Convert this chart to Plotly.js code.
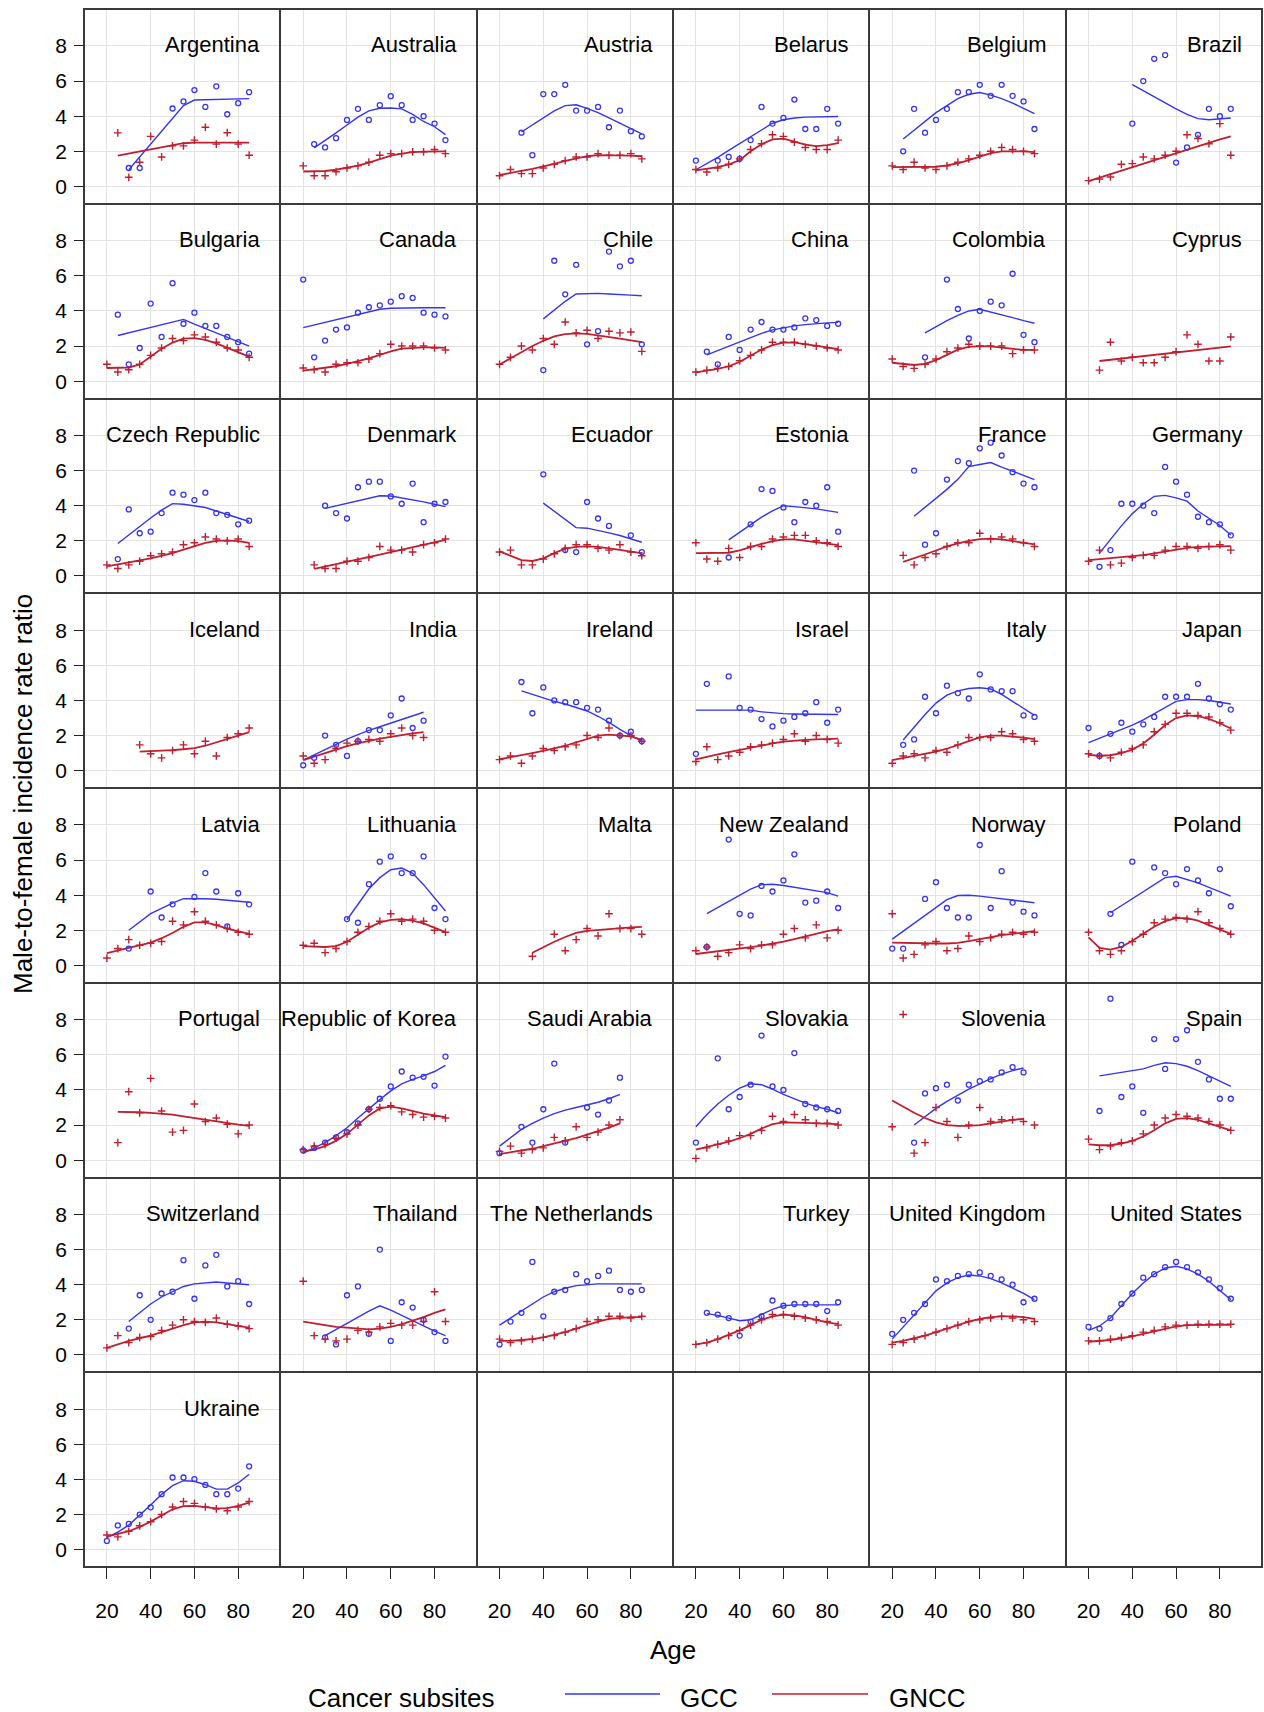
<!DOCTYPE html>
<html>
<head>
<meta charset="utf-8">
<script src="https://cdn.plot.ly/plotly-3.0.1.min.js"></script>
<style>
  html, body { margin: 0; padding: 0; background: #ffffff; }
  #chart { width: 1264px; height: 1712px; }
</style>
</head>
<body>
<div id="chart"></div>
<script>
// Age groups (years) shared by every country panel
const ages = [20, 25, 30, 35, 40, 45, 50, 55, 60, 65, 70, 75, 80, 85];

const countries = [
  "Argentina", "Australia", "Austria", "Belarus", "Belgium", "Brazil",
  "Bulgaria", "Canada", "Chile", "China", "Colombia", "Cyprus",
  "Czech Republic", "Denmark", "Ecuador", "Estonia", "France", "Germany",
  "Iceland", "India", "Ireland", "Israel", "Italy", "Japan",
  "Latvia", "Lithuania", "Malta", "New Zealand", "Norway", "Poland",
  "Portugal", "Republic of Korea", "Saudi Arabia", "Slovakia", "Slovenia", "Spain",
  "Switzerland", "Thailand", "The Netherlands", "Turkey", "United Kingdom", "United States",
  "Ukraine"
];

const N = null;

// GCC: observed male-to-female ratios by age group
const gccObserved = [
  [N,N,1.05,1.05,N,N,4.44,4.84,5.49,4.53,5.70,4.11,4.74,5.37],
  [N,2.41,2.22,2.75,3.79,4.42,3.79,4.63,5.14,4.63,3.79,4.0,3.58,2.64],
  [N,N,3.06,1.78,5.26,5.26,5.79,4.32,4.32,4.53,3.37,4.32,3.15,2.85],
  [1.47,N,1.47,1.68,1.57,2.64,4.53,3.58,3.9,4.95,3.27,3.27,4.42,3.58],
  [N,2.0,4.42,3.06,3.79,4.42,5.37,5.37,5.79,5.16,5.79,5.16,4.84,3.27],
  [N,N,N,N,3.58,6.0,7.27,7.48,1.36,2.22,2.94,4.42,4.0,4.42],
  [N,3.79,0.96,1.89,4.42,2.52,5.58,3.27,3.9,3.15,3.15,2.52,2.22,1.57],
  [5.79,1.36,2.31,2.94,3.06,3.9,4.21,4.32,4.53,4.84,4.74,3.9,3.79,3.69],
  [N,N,N,N,0.63,6.86,4.95,6.63,2.1,2.85,7.38,6.54,6.86,2.1],
  [N,1.68,0.96,2.52,1.78,2.94,3.37,2.94,2.94,3.06,3.58,3.48,3.15,3.27],
  [N,N,N,1.36,N,5.79,4.11,2.43,4.0,4.53,4.32,6.12,2.64,2.22],
  [N,N,N,N,N,N,N,N,N,N,N,N,N,N],
  [N,0.96,3.79,2.43,2.52,3.58,4.74,4.63,4.32,4.74,3.58,3.48,2.94,3.15],
  [N,N,4.0,3.58,3.27,5.05,5.37,5.37,4.53,4.11,5.26,3.06,4.11,4.21],
  [N,N,N,N,5.79,N,1.47,1.36,4.21,3.27,2.85,N,2.31,1.36],
  [N,N,N,1.05,N,2.94,4.95,4.84,3.9,3.06,4.21,4.0,5.05,2.52],
  [N,N,6.0,1.78,2.43,5.49,6.54,6.42,7.27,7.59,6.86,5.91,5.26,5.05],
  [N,0.52,1.47,4.11,4.11,4.0,3.58,6.21,5.37,4.63,3.37,3.06,2.94,2.31],
  [N,N,N,N,N,N,N,N,N,N,N,N,N,N],
  [0.31,0.73,2.0,1.47,0.84,1.68,2.31,2.31,3.15,4.11,2.43,2.85,N,N],
  [N,N,5.05,3.27,4.74,4.0,3.9,3.9,3.58,3.48,2.85,2.0,2.22,1.68],
  [0.96,4.95,N,5.37,3.58,3.48,2.94,2.52,2.85,3.06,3.27,3.9,2.73,3.48],
  [N,1.47,1.78,4.21,3.27,4.84,4.42,4.11,5.49,4.63,4.53,4.53,3.15,3.06],
  [2.43,0.84,2.1,2.73,2.22,2.64,3.06,4.21,4.21,4.21,4.95,4.11,3.79,3.48],
  [N,N,0.96,N,4.21,2.73,3.48,N,3.9,5.26,4.21,2.22,4.11,3.48],
  [N,N,N,N,2.64,2.43,4.63,5.91,6.21,5.26,5.26,6.21,3.27,2.64],
  [N,N,N,N,N,N,N,N,N,N,N,N,N,N],
  [N,1.05,N,7.17,2.94,2.85,4.53,4.21,4.84,6.33,3.58,3.69,4.21,3.27],
  [0.96,0.96,N,3.79,4.74,3.27,2.73,2.73,6.86,3.27,5.37,3.58,3.06,2.85],
  [N,N,2.94,1.17,5.91,N,5.58,5.26,4.63,5.49,4.84,4.11,5.49,3.37],
  [N,N,N,N,N,N,N,N,N,N,N,N,N,N],
  [0.55,0.7,1.0,1.3,1.6,2.1,2.9,3.5,4.2,5.05,4.7,4.75,4.25,5.9],
  [0.4,N,1.9,1.0,2.9,5.5,1.0,N,3.0,2.6,3.4,4.7,N,N],
  [1.0,N,5.8,2.9,3.6,4.3,7.1,4.2,4.0,6.1,3.2,3.0,2.9,2.8],
  [N,N,1.0,3.8,4.1,4.3,3.4,4.3,4.5,4.6,5.0,5.3,5.0,N],
  [N,2.8,9.2,3.6,4.2,2.7,6.9,5.2,6.9,7.4,5.6,4.6,3.5,3.5],
  [N,N,1.5,3.4,2.0,3.5,3.6,5.4,3.2,5.1,5.7,3.9,4.2,2.9],
  [N,N,1.0,0.6,3.4,3.9,1.2,6.0,0.8,3.0,2.7,2.0,1.3,0.8],
  [0.6,1.9,2.4,5.3,2.2,3.6,3.7,4.6,4.2,4.5,4.8,3.7,3.6,3.7],
  [N,2.4,2.3,2.1,1.1,1.9,2.2,3.1,2.8,2.9,2.9,2.9,2.5,3.0],
  [1.2,2.0,2.4,2.9,4.3,4.2,4.5,4.6,4.7,4.5,4.3,4.0,3.0,3.2],
  [1.6,1.5,2.1,2.9,3.5,4.4,4.6,5.0,5.3,5.0,4.7,4.3,3.8,3.2],
  [0.5,1.38,1.47,2.0,2.41,3.16,4.11,4.11,4.02,3.69,3.16,3.16,3.48,4.75]
];

// GCC: smoothed trend by age group
const gccTrend = [
  [N,N,0.95,1.68,2.41,3.14,3.87,4.6,4.92,4.93,4.95,4.96,4.98,5.0],
  [N,2.2,2.6,3.05,3.5,3.95,4.3,4.45,4.47,4.42,4.1,3.7,3.4,2.95],
  [N,N,3.1,3.5,3.9,4.3,4.6,4.65,4.45,4.2,3.9,3.6,3.3,3.0],
  [0.95,1.3,1.65,2.05,2.45,2.85,3.25,3.6,3.8,3.9,3.95,3.97,3.98,3.98],
  [N,2.7,3.2,3.7,4.2,4.6,5.0,5.25,5.35,5.2,5.0,4.75,4.45,4.15],
  [N,N,N,N,5.8,5.45,5.08,4.74,4.42,4.1,3.86,3.8,3.85,3.9],
  [N,2.6,2.75,2.9,3.05,3.2,3.35,3.52,3.25,3.0,2.75,2.5,2.25,2.0],
  [3.05,3.2,3.35,3.5,3.65,3.8,3.97,4.1,4.15,4.17,4.18,4.18,4.18,4.18],
  [N,N,N,N,3.55,4.05,4.55,4.97,5.0,5.0,4.97,4.92,4.9,4.87],
  [N,1.5,1.75,2.0,2.25,2.5,2.72,2.92,3.05,3.15,3.22,3.28,3.32,3.35],
  [N,N,N,2.75,3.1,3.45,3.75,4.0,4.1,3.95,3.8,3.62,3.45,3.3],
  [N,N,N,N,N,N,N,N,N,N,N,N,N,N],
  [N,1.85,2.35,2.85,3.3,3.75,4.12,4.08,4.0,3.9,3.7,3.5,3.3,3.1],
  [N,N,3.85,4.0,4.15,4.28,4.42,4.57,4.55,4.45,4.35,4.22,4.08,3.95],
  [N,N,N,N,4.15,3.7,3.25,2.75,2.72,2.6,2.45,2.3,2.1,1.92],
  [N,N,N,2.05,2.5,2.95,3.35,3.7,4.0,3.95,3.9,3.82,3.72,3.62],
  [N,N,3.4,3.9,4.4,4.93,5.5,6.23,6.35,6.46,6.2,5.95,5.72,5.49],
  [N,1.3,2.1,2.85,3.55,4.1,4.53,4.59,4.45,4.26,3.7,3.3,2.87,2.33],
  [N,N,N,N,N,N,N,N,N,N,N,N,N,N],
  [0.6,0.9,1.2,1.5,1.8,2.05,2.3,2.5,2.7,2.9,3.1,3.33,N,N],
  [N,N,4.55,4.35,4.15,3.95,3.8,3.6,3.4,3.1,2.75,2.35,2.0,1.7],
  [3.45,3.45,3.45,3.45,3.45,3.45,3.35,3.28,3.25,3.23,3.22,3.2,3.2,3.2],
  [N,1.75,2.5,3.2,3.85,4.3,4.55,4.68,4.72,4.65,4.35,3.95,3.55,3.15],
  [1.6,1.85,2.1,2.35,2.6,2.9,3.25,3.6,3.95,4.05,4.05,4.0,3.9,3.8],
  [N,N,2.0,2.5,2.95,3.25,3.55,3.8,3.82,3.8,3.77,3.72,3.67,3.6],
  [N,N,N,N,2.6,3.5,4.35,5.0,5.45,5.55,5.25,4.6,3.85,3.1],
  [N,N,N,N,N,N,N,N,N,N,N,N,N,N],
  [N,2.95,3.3,3.65,4.0,4.35,4.6,4.62,4.55,4.45,4.35,4.25,4.15,3.95],
  [1.5,1.95,2.4,2.85,3.3,3.75,3.98,4.0,3.95,3.88,3.8,3.72,3.65,3.57],
  [N,N,3.0,3.4,3.8,4.2,4.6,5.0,5.08,4.9,4.7,4.45,4.2,3.95],
  [N,N,N,N,N,N,N,N,N,N,N,N,N,N],
  [0.4,0.7,1.0,1.4,1.85,2.4,2.95,3.45,3.95,4.35,4.6,4.8,5.05,5.4],
  [0.8,1.3,1.75,2.1,2.4,2.65,2.85,3.0,3.15,3.3,3.5,3.75,N,N],
  [1.9,2.6,3.2,3.7,4.1,4.35,4.3,4.05,3.75,3.5,3.25,3.05,2.9,2.7],
  [N,N,2.0,2.5,2.95,3.35,3.7,4.05,4.35,4.65,4.9,5.1,5.25,N],
  [N,4.8,4.9,5.0,5.1,5.2,5.4,5.55,5.5,5.35,5.1,4.8,4.5,4.2],
  [N,N,1.9,2.4,2.9,3.3,3.6,3.9,4.05,4.1,4.15,4.1,4.05,4.0],
  [N,N,1.1,1.45,1.8,2.15,2.5,2.8,2.55,2.25,1.95,1.65,1.35,1.1],
  [1.7,2.1,2.5,2.9,3.3,3.6,3.8,3.95,4.0,4.05,4.05,4.05,4.05,4.05],
  [N,2.35,2.25,2.1,1.95,2.0,2.3,2.6,2.8,2.85,2.85,2.85,2.85,2.85],
  [0.9,1.6,2.3,3.0,3.65,4.1,4.4,4.55,4.5,4.35,4.1,3.8,3.5,3.15],
  [1.4,1.65,2.1,2.8,3.5,4.1,4.6,4.95,5.05,4.9,4.6,4.2,3.7,3.15],
  [0.7,1.0,1.4,1.95,2.55,3.15,3.65,3.93,3.9,3.7,3.45,3.45,3.8,4.3]
];

// GNCC: observed male-to-female ratios by age group
const gnccObserved = [
  [N,3.05,0.52,1.38,2.85,1.68,2.31,2.31,2.64,3.37,2.41,3.06,2.41,1.78],
  [1.17,0.61,0.61,0.84,1.05,1.17,1.38,1.78,1.87,1.87,1.97,1.97,2.1,1.87],
  [0.61,0.96,0.73,0.73,1.05,1.26,1.47,1.68,1.68,1.87,1.78,1.78,1.87,1.57],
  [0.96,0.82,1.05,1.26,1.57,2.1,2.43,2.94,2.85,2.52,2.22,2.1,2.1,2.64],
  [1.17,0.96,1.38,1.05,0.96,1.17,1.38,1.57,1.78,2.0,2.22,2.1,2.0,1.87],
  [0.33,0.42,0.54,1.26,1.3,1.68,1.57,1.78,2.0,2.94,2.73,2.43,3.58,1.78],
  [0.96,0.52,0.65,0.96,1.47,1.89,2.43,2.31,2.64,2.52,2.22,1.89,1.78,1.36],
  [0.75,0.65,0.52,0.96,1.05,1.05,1.26,1.57,2.1,2.0,2.0,2.0,1.89,1.78],
  [0.96,1.36,2.0,1.78,2.43,2.1,3.37,2.75,2.9,2.43,2.84,2.75,2.8,1.7],
  [0.52,0.63,0.73,0.84,1.17,1.47,1.78,2.22,2.22,2.22,2.1,2.0,1.89,1.78],
  [1.26,0.84,0.73,0.96,1.26,1.68,1.89,2.1,2.0,2.0,2.0,1.57,1.78,1.78],
  [N,0.63,2.22,1.15,1.36,1.05,1.05,1.36,1.68,2.64,2.1,1.15,1.15,2.52],
  [0.63,0.42,0.63,0.84,1.15,1.26,1.36,1.78,1.89,2.22,2.1,2.0,2.1,1.68],
  [N,0.63,0.42,0.42,0.84,0.84,1.05,1.68,1.47,1.47,1.36,1.78,1.89,2.1],
  [1.36,1.47,0.63,0.63,0.96,1.26,1.57,1.78,1.78,1.57,1.47,1.78,1.36,1.15],
  [1.89,0.96,0.84,1.57,1.05,1.68,1.68,2.1,2.22,2.31,2.31,2.0,1.89,1.68],
  [N,1.17,0.63,1.05,1.26,1.68,1.89,1.89,2.43,2.1,2.22,2.1,1.89,1.68],
  [0.84,1.47,0.63,0.73,1.05,1.17,1.17,1.47,1.68,1.68,1.57,1.68,1.78,1.47],
  [N,N,N,1.47,0.96,0.73,1.15,1.47,0.96,1.68,0.84,1.89,2.1,2.43],
  [0.84,0.42,0.63,1.26,1.57,1.68,1.78,1.68,2.1,2.43,2.0,1.89,N,N],
  [0.63,0.84,0.42,0.84,1.26,1.15,1.36,1.47,2.0,1.89,2.43,2.0,2.0,1.68],
  [0.52,1.36,0.63,0.84,1.05,1.36,1.47,1.57,1.78,2.1,1.68,2.0,1.78,1.57],
  [0.42,0.84,0.96,0.73,1.15,1.05,1.47,1.89,1.89,1.89,2.22,2.1,1.78,1.68],
  [0.96,0.84,0.73,1.05,1.26,1.47,2.22,2.64,3.27,3.27,3.15,3.06,2.73,2.31],
  [0.42,0.96,1.47,1.15,1.26,1.36,2.52,2.31,3.06,2.52,2.31,2.1,1.89,1.78],
  [1.15,1.26,0.73,0.96,1.36,1.89,2.22,2.52,2.94,2.52,2.64,2.52,2.0,1.89],
  [N,N,N,0.52,N,1.78,0.84,1.47,2.1,1.68,2.94,2.1,2.1,1.78],
  [0.84,1.05,0.52,0.73,1.17,0.96,1.17,1.17,1.78,2.1,1.57,2.31,1.57,2.0],
  [2.94,0.42,0.63,1.17,1.36,0.84,0.96,1.68,1.36,1.57,1.78,1.89,1.78,1.89],
  [1.89,0.84,0.63,0.84,1.36,1.78,2.43,2.64,2.73,2.64,3.06,2.43,2.1,1.78],
  [N,1.0,3.9,2.7,4.66,2.8,1.6,1.7,3.2,2.2,2.4,2.05,1.5,2.0],
  [0.6,0.8,0.9,1.25,1.5,2.0,2.9,3.0,3.1,2.75,2.6,2.45,2.5,2.4],
  [0.5,0.8,0.4,0.6,0.7,1.3,1.1,1.9,1.3,1.6,2.0,2.3,N,N],
  [0.1,0.7,0.9,1.1,1.4,1.4,1.7,2.5,2.2,2.6,2.3,2.1,2.1,2.0],
  [1.9,8.3,0.4,1.0,3.0,2.2,1.3,2.0,3.0,2.2,2.3,2.3,2.2,2.0],
  [1.2,0.6,0.8,1.0,1.1,1.5,2.0,2.4,2.6,2.5,2.4,2.2,2.0,1.7],
  [0.4,1.1,0.7,1.0,1.05,1.4,1.7,2.0,1.9,1.85,2.1,1.75,1.65,1.5],
  [4.2,1.1,0.9,0.8,0.9,1.4,1.3,1.6,1.8,1.7,1.7,1.9,3.6,1.9],
  [0.9,0.7,0.8,0.9,1.0,1.1,1.3,1.5,1.9,2.0,2.2,2.2,2.1,2.2],
  [0.6,0.7,0.9,1.1,1.4,1.7,2.0,2.3,2.3,2.2,2.1,2.0,1.9,1.7],
  [0.6,0.7,0.9,1.1,1.3,1.5,1.7,1.9,2.0,2.1,2.2,2.1,2.0,1.9],
  [0.8,0.8,0.9,1.0,1.1,1.3,1.4,1.6,1.7,1.7,1.75,1.75,1.75,1.75],
  [0.84,0.73,1.05,1.36,1.59,2.0,2.43,2.74,2.64,2.43,2.32,2.22,2.43,2.74]
];

// GNCC: smoothed trend by age group
const gnccTrend = [
  [N,1.75,1.87,1.98,2.1,2.22,2.34,2.46,2.5,2.5,2.5,2.5,2.5,2.5],
  [0.85,0.85,0.88,0.95,1.05,1.18,1.35,1.55,1.75,1.87,1.95,1.98,2.0,2.0],
  [0.65,0.75,0.88,1.0,1.12,1.28,1.45,1.6,1.72,1.78,1.78,1.78,1.75,1.72],
  [0.92,1.0,1.1,1.25,1.5,2.0,2.4,2.68,2.72,2.55,2.38,2.3,2.35,2.47],
  [1.1,1.1,1.1,1.1,1.12,1.2,1.32,1.5,1.72,1.9,2.0,2.02,2.0,1.95],
  [0.3,0.5,0.7,0.9,1.1,1.3,1.5,1.7,1.9,2.1,2.3,2.5,2.68,2.85],
  [0.75,0.75,0.78,0.95,1.4,1.85,2.2,2.42,2.45,2.35,2.15,1.9,1.65,1.4],
  [0.6,0.67,0.75,0.85,0.98,1.12,1.3,1.5,1.7,1.85,1.9,1.92,1.92,1.9],
  [0.95,1.3,1.65,2.0,2.3,2.55,2.68,2.72,2.7,2.62,2.52,2.42,2.33,2.22],
  [0.5,0.6,0.7,0.85,1.1,1.45,1.8,2.05,2.2,2.2,2.12,2.02,1.93,1.82],
  [1.05,0.98,0.92,0.98,1.2,1.5,1.8,1.95,2.0,1.98,1.9,1.82,1.78,1.78],
  [N,1.15,1.22,1.29,1.36,1.43,1.5,1.57,1.64,1.71,1.78,1.85,1.92,1.98],
  [0.55,0.65,0.75,0.88,1.0,1.15,1.3,1.5,1.7,1.88,2.0,2.02,1.98,1.88],
  [N,0.4,0.53,0.67,0.8,0.94,1.08,1.22,1.36,1.5,1.63,1.77,1.9,2.05],
  [1.4,1.15,0.9,0.85,1.0,1.3,1.55,1.65,1.68,1.65,1.58,1.48,1.38,1.3],
  [1.3,1.3,1.3,1.32,1.45,1.65,1.82,1.98,2.08,2.08,2.0,1.92,1.85,1.75],
  [N,0.8,1.0,1.22,1.45,1.68,1.85,2.0,2.1,2.12,2.08,2.0,1.92,1.8],
  [0.9,0.95,1.0,1.05,1.1,1.18,1.28,1.4,1.52,1.6,1.65,1.68,1.7,1.7],
  [N,N,N,1.08,1.1,1.13,1.17,1.22,1.28,1.42,1.6,1.8,2.0,2.2],
  [0.6,0.8,1.0,1.2,1.4,1.55,1.7,1.82,1.93,2.05,2.13,2.2,N,N],
  [0.65,0.75,0.88,1.0,1.12,1.27,1.42,1.6,1.8,2.0,2.05,2.0,1.95,1.75],
  [0.65,0.8,0.93,1.05,1.18,1.3,1.42,1.55,1.65,1.72,1.75,1.78,1.8,1.83],
  [0.6,0.72,0.83,0.95,1.08,1.25,1.45,1.68,1.9,2.0,2.0,1.95,1.88,1.8],
  [0.9,0.85,0.88,1.0,1.2,1.55,2.05,2.6,3.0,3.15,3.1,2.95,2.7,2.4],
  [0.7,0.85,1.0,1.15,1.3,1.55,1.85,2.2,2.45,2.45,2.3,2.1,1.95,1.8],
  [1.1,1.07,1.05,1.1,1.35,1.75,2.15,2.45,2.6,2.63,2.55,2.4,2.15,1.9],
  [N,N,N,0.72,1.05,1.35,1.62,1.85,1.97,2.03,2.08,2.12,2.17,2.2],
  [0.65,0.72,0.8,0.88,0.96,1.04,1.13,1.23,1.35,1.5,1.65,1.8,1.95,2.05],
  [1.3,1.28,1.27,1.26,1.25,1.25,1.28,1.38,1.5,1.62,1.72,1.8,1.88,1.95],
  [1.6,1.0,0.9,1.05,1.4,1.8,2.2,2.52,2.7,2.7,2.55,2.3,2.05,1.8],
  [N,2.75,2.75,2.73,2.7,2.65,2.6,2.5,2.4,2.3,2.2,2.1,2.02,1.95],
  [0.5,0.6,0.8,1.1,1.5,2.0,2.55,2.95,3.05,2.95,2.8,2.65,2.55,2.45],
  [0.35,0.45,0.55,0.65,0.8,0.95,1.1,1.25,1.45,1.65,1.85,2.1,N,N],
  [0.6,0.75,0.9,1.05,1.25,1.5,1.8,2.05,2.15,2.15,2.12,2.1,2.08,2.05],
  [3.4,3.05,2.7,2.4,2.15,2.0,1.95,1.95,2.0,2.1,2.2,2.3,2.35,N],
  [0.9,0.85,0.85,0.95,1.1,1.35,1.7,2.1,2.35,2.4,2.3,2.1,1.9,1.7],
  [0.4,0.6,0.8,0.95,1.1,1.3,1.5,1.7,1.85,1.9,1.85,1.75,1.65,1.55],
  [1.9,1.8,1.7,1.6,1.55,1.5,1.45,1.5,1.6,1.75,1.95,2.15,2.4,2.6],
  [0.8,0.8,0.85,0.9,1.0,1.15,1.3,1.5,1.7,1.9,2.05,2.12,2.15,2.15],
  [0.6,0.7,0.9,1.15,1.4,1.7,2.0,2.2,2.3,2.25,2.15,2.0,1.85,1.75],
  [0.7,0.8,0.95,1.1,1.3,1.5,1.7,1.9,2.05,2.15,2.2,2.2,2.15,2.05],
  [0.75,0.8,0.85,0.95,1.05,1.2,1.35,1.5,1.62,1.7,1.72,1.72,1.72,1.72],
  [0.75,0.9,1.05,1.3,1.6,1.95,2.3,2.48,2.5,2.42,2.35,2.37,2.5,2.68]
];

const xTickVals = [20, 40, 60, 80];
const xTickText = ["20", "40", "60", "80"];
const yTickVals = [0, 2, 4, 6, 8];
const yTickText = ["0", "2", "4", "6", "8"];

const seriesNames = ["GCC", "GNCC"];
const seriesColors = ["#3434f2", "#c01f2f"];

// ---- page geometry ----
const W = 1264, H = 1712;
const M = { l: 84, r: 2, t: 9, b: 145 };
const PW = W - M.l - M.r, PH = H - M.t - M.b;
const NCOLS = 6, NROWS = 8, GAP = 2;
const cellW = PW / NCOLS, cellH = PH / NROWS;
const FONT = "Liberation Sans, Arial, Helvetica, sans-serif";
const pxX = x => (x - M.l) / PW;
const pxY = y => (H - M.b - y) / PH;

const layout = {
  width: W, height: H, margin: M,
  paper_bgcolor: "#ffffff", plot_bgcolor: "#ffffff",
  showlegend: false,
  font: { family: FONT, color: "#000000" },
  annotations: [], shapes: []
};
const traces = [];

for (let k = 0; k < NROWS * NCOLS; k++) {
  const r = Math.floor(k / NCOLS), c = k % NCOLS;
  const id = k === 0 ? "" : String(k + 1);
  const hasPanel = k < countries.length;
  const bottomRow = r === NROWS - 1;
  const leftCol = c === 0;
  const xa = "x" + id, ya = "y" + id;

  layout["xaxis" + id] = {
    domain: [(c * cellW + GAP / 2) / PW, ((c + 1) * cellW - GAP / 2) / PW],
    range: [10, 98.8], anchor: ya,
    tickmode: "array", tickvals: xTickVals, ticktext: xTickText,
    showgrid: hasPanel, gridcolor: "#e3e3e3", gridwidth: 1,
    zeroline: false, showline: true, mirror: true,
    linecolor: "#3a3a3a", linewidth: 1.8,
    ticks: bottomRow ? "outside" : "", ticklen: 11, tickwidth: 1, tickcolor: "#222",
    showticklabels: bottomRow, ticklabelstandoff: 14,
    tickfont: { family: FONT, size: 21, color: "#000" },
    fixedrange: true
  };
  layout["yaxis" + id] = {
    domain: [1 - ((r + 1) * cellH - GAP / 2) / PH, 1 - (r * cellH + GAP / 2) / PH],
    range: [-0.93, 10.05], anchor: xa,
    tickmode: "array", tickvals: yTickVals, ticktext: yTickText,
    showgrid: hasPanel, gridcolor: "#e3e3e3", gridwidth: 1,
    minor: { tickvals: [10], showgrid: hasPanel, gridcolor: "#e3e3e3", ticks: "" },
    zeroline: false, showline: true, mirror: true,
    linecolor: "#3a3a3a", linewidth: 1.8,
    ticks: leftCol && hasPanel ? "outside" : "", ticklen: 9, tickwidth: 1, tickcolor: "#222",
    showticklabels: leftCol && hasPanel, ticklabelstandoff: 3,
    tickfont: { family: FONT, size: 21, color: "#000" },
    fixedrange: true
  };

  if (!hasPanel) {
    // empty frame so the unused cells still get their box and age ticks
    traces.push({ type: "scatter", mode: "markers", x: [null], y: [null], xaxis: xa, yaxis: ya, hoverinfo: "skip" });
    continue;
  }

  const trend = [gccTrend[k], gnccTrend[k]];
  const obs = [gccObserved[k], gnccObserved[k]];

  for (let s = 0; s < 2; s++) {
    traces.push({
      type: "scatter", mode: "lines", x: ages, y: trend[s],
      xaxis: xa, yaxis: ya, name: seriesNames[s], hoverinfo: "skip",
      line: { color: seriesColors[s], width: s === 0 ? 1.4 : 1.8, shape: "linear" },
      connectgaps: false
    });
  }
  traces.push({
    type: "scatter", mode: "markers", x: ages, y: obs[0],
    xaxis: xa, yaxis: ya, name: seriesNames[0], hoverinfo: "skip",
    marker: { symbol: "circle-open", size: 5, color: seriesColors[0], line: { width: 1.3, color: seriesColors[0] } }
  });
  traces.push({
    type: "scatter", mode: "markers", x: ages, y: obs[1],
    xaxis: xa, yaxis: ya, name: seriesNames[1], hoverinfo: "skip",
    marker: { symbol: "cross-thin-open", size: 5.5, color: seriesColors[1], line: { width: 1.4, color: seriesColors[1] } }
  });

  // country label in the upper right of each panel
  layout.annotations.push({
    text: countries[k], showarrow: false,
    xref: xa + " domain", yref: ya + " domain",
    x: 1, y: 1, xanchor: "right", yanchor: "middle",
    xshift: -17, yshift: -35,
    font: { family: FONT, size: 22, color: "#000" }
  });
}

// axis titles
layout.annotations.push({
  text: "Age", showarrow: false, xref: "paper", yref: "paper",
  x: pxX(673), y: pxY(1650), xanchor: "center", yanchor: "middle",
  font: { family: FONT, size: 26, color: "#000" }
});
layout.annotations.push({
  text: "Male-to-female incidence rate ratio", showarrow: false, textangle: -90,
  xref: "paper", yref: "paper", x: pxX(23), y: pxY(794),
  xanchor: "center", yanchor: "middle",
  font: { family: FONT, size: 26, color: "#000" }
});

// legend row
layout.annotations.push({
  text: "Cancer subsites", showarrow: false, xref: "paper", yref: "paper",
  x: pxX(306), y: pxY(1698), xanchor: "left", yanchor: "middle",
  font: { family: FONT, size: 26, color: "#000" }
});
const legendItems = [
  { x0: 565, x1: 660, tx: 678 },
  { x0: 772, x1: 868, tx: 887 }
];
legendItems.forEach((it, s) => {
  layout.shapes.push({
    type: "line", xref: "paper", yref: "paper",
    x0: pxX(it.x0), x1: pxX(it.x1), y0: pxY(1694), y1: pxY(1694),
    line: { color: seriesColors[s], width: 1.5 }
  });
  layout.annotations.push({
    text: seriesNames[s], showarrow: false, xref: "paper", yref: "paper",
    x: pxX(it.tx), y: pxY(1698), xanchor: "left", yanchor: "middle",
    font: { family: FONT, size: 26, color: "#000" }
  });
});

Plotly.newPlot("chart", traces, layout, { staticPlot: true, displayModeBar: false });
</script>
</body>
</html>
